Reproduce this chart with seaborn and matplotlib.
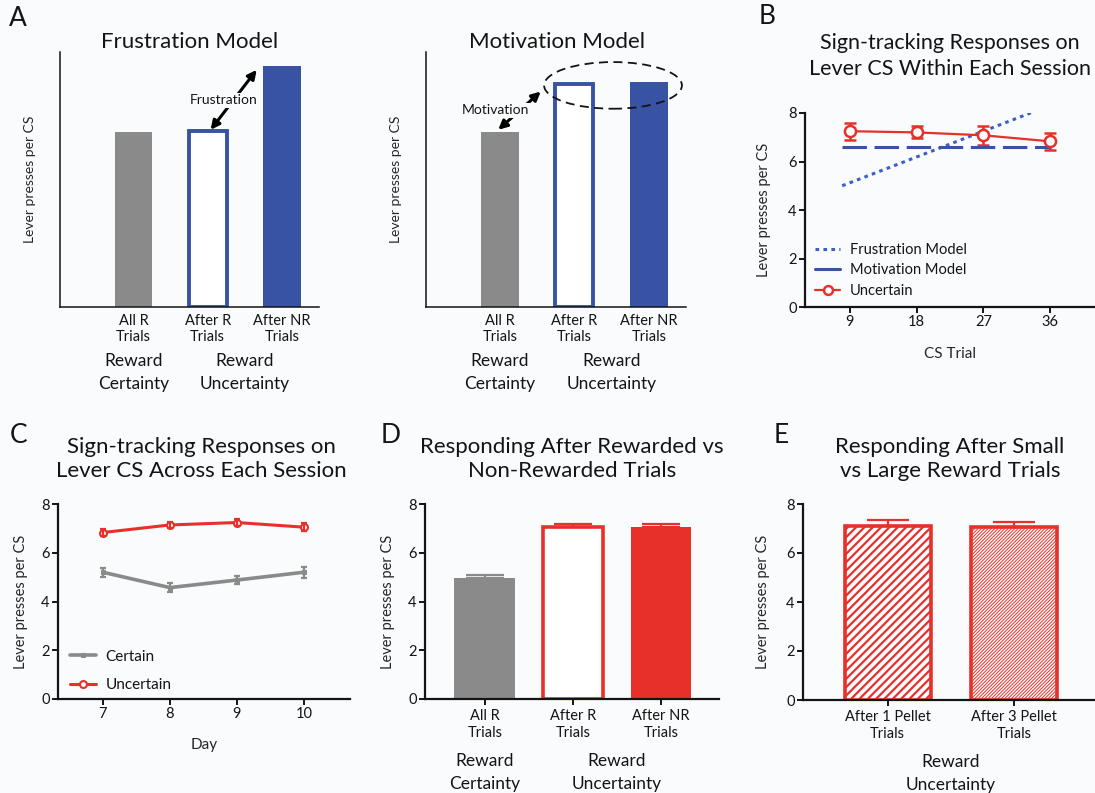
import matplotlib
matplotlib.use("Agg")
import matplotlib.pyplot as plt
from matplotlib.patches import Ellipse
import seaborn as sns

W, H = 1095, 793

# Panel A (schematic model predictions)
a_cats = ["All R\nTrials", "After R\nTrials", "After NR\nTrials"]
frustration_vals = [6.85, 6.9, 9.45]
motivation_vals = [6.85, 8.74, 8.82]

# Panel B (within session)
cs_trial = [9, 18, 27, 36]
uncertain_b = [7.25, 7.2, 7.08, 6.83]
uncertain_b_err = [0.35, 0.25, 0.4, 0.35]
frust_line_x = [8, 35]
frust_line_y = [5.0, 8.2]
motiv_line_x = [8, 36]
motiv_line_y = [6.6, 6.6]

# Panel C (across sessions)
days = [7, 8, 9, 10]
certain_c = [5.2, 4.57, 4.88, 5.2]
certain_c_err = [0.18, 0.2, 0.17, 0.22]
uncertain_c = [6.83, 7.14, 7.24, 7.05]
uncertain_c_err = [0.15, 0.13, 0.13, 0.17]

# Panel D
d_cats = ["All R\nTrials", "After R\nTrials", "After NR\nTrials"]
d_vals = [4.96, 7.06, 7.06]
d_err = [0.13, 0.14, 0.14]

# Panel E
e_cats = ["After 1 Pellet\nTrials", "After 3 Pellet\nTrials"]
e_vals = [7.1, 7.05]
e_err = [0.25, 0.23]

GRAY = "#8a8a8a"
BLUE = "#3852a4"
LBLUE = "#3d5fc4"
RED = "#e8302a"
INK = "#141414"
BG = "#fafbfd"

sns.set_style("ticks")
plt.rcParams["font.family"] = ["Lato", "DejaVu Sans"]
plt.rcParams["axes.facecolor"] = BG
plt.rcParams["axes.edgecolor"] = INK
plt.rcParams["text.color"] = INK
plt.rcParams["xtick.color"] = INK
plt.rcParams["ytick.color"] = INK

fig = plt.figure(figsize=(W / 100, H / 100), dpi=100, facecolor=BG)


def add_ax(x0, x1, yt, yb):
    return fig.add_axes([x0 / W, 1 - yb / H, (x1 - x0) / W, (yb - yt) / H])


def ftext(px, py, s, **kw):
    fig.text(px / W, 1 - py / H, s, **kw)


def label_coords(ax, x0, x1, yt, yb, ylab_px=None, xlab_py=None):
    if ylab_px is not None:
        ax.yaxis.set_label_coords((ylab_px - x0) / (x1 - x0), 0.5)
    if xlab_py is not None:
        ax.xaxis.set_label_coords(0.5, (yb - xlab_py) / (yb - yt))


def group_label(ax, x, s, drop_pt, size=12.5):
    ax.annotate(s, xy=(x, 0), xycoords=("data", "axes fraction"),
                xytext=(0, -drop_pt), textcoords="offset points",
                ha="center", va="center", fontsize=size, linespacing=1.55)


def style_bars(ax, styles, lw):
    for p, (face, edge) in zip(ax.patches, styles):
        p.set_facecolor(face)
        p.set_edgecolor(edge)
        p.set_linewidth(lw if face != edge else 0)


def upper_errors(ax, vals, errs, colors, capsize):
    for i, (v, e, c) in enumerate(zip(vals, errs, colors)):
        ax.errorbar([i], [v], yerr=[[0], [e]], fmt="none", ecolor=c,
                    elinewidth=1.6, capsize=capsize, capthick=1.6)


# ---------------- Panel A ----------------
for (x0, x1), vals, title, tx in [((60, 319), frustration_vals, "Frustration Model", 190),
                                  ((426, 686), motivation_vals, "Motivation Model", 557)]:
    ax = add_ax(x0, x1, 52, 307)
    sns.barplot(x=a_cats, y=vals, width=0.51, ax=ax)
    style_bars(ax, [(GRAY, GRAY), ("white", BLUE), (BLUE, BLUE)], 2.8)
    ax.set_xlim(-0.99, 2.5)
    ax.set_ylim(0, 10)
    ax.set_yticks([])
    ax.tick_params(axis="x", length=0, pad=5, labelsize=10.5)
    for t in ax.get_xticklabels():
        t.set_linespacing(1.2)
    sns.despine(ax=ax)
    for s in ("left", "bottom"):
        ax.spines[s].set_linewidth(1.1)
    ax.set_ylabel("Lever presses per CS", fontsize=10)
    label_coords(ax, x0, x1, 52, 307, ylab_px=x0 - 24)
    group_label(ax, 0, "Reward\nCertainty", 47)
    group_label(ax, 1.5, "Reward\nUncertainty", 47)
    ftext(tx, 42, title, ha="center", va="center", fontsize=16)
    if vals is frustration_vals:
        ax.annotate("", xy=(1.04, 6.95), xytext=(1.66, 9.3),
                    arrowprops=dict(arrowstyle="<|-|>", lw=2.2, color="black",
                                    mutation_scale=13, shrinkA=0, shrinkB=0))
        ax.text(1.22, 8.1, "Frustration", fontsize=10, ha="center", va="center",
                bbox=dict(boxstyle="square,pad=0.1", fc=BG, ec="none"))
    else:
        ax.annotate("", xy=(-0.02, 6.95), xytext=(0.55, 8.45),
                    arrowprops=dict(arrowstyle="<|-|>", lw=2.2, color="black",
                                    mutation_scale=13, shrinkA=0, shrinkB=0))
        ax.text(-0.06, 7.71, "Motivation", fontsize=10, ha="center", va="center",
                bbox=dict(boxstyle="square,pad=0.1", fc=BG, ec="none"))
        ax.add_patch(Ellipse((1.52, 8.69), 1.85, 1.83, fill=False, ls=(0, (5, 3)),
                             lw=1.3, ec=INK, clip_on=False))

ftext(18, 18, "A", ha="center", va="center", fontsize=19)


def style_axis(ax):
    sns.despine(ax=ax)
    for s in ("left", "bottom"):
        ax.spines[s].set_linewidth(1.6)
    ax.tick_params(length=4, width=1.4, labelsize=10.5, pad=2)


# ---------------- Panel B ----------------
bx = (805, 1095, 113, 307)
ax = add_ax(*bx)
sns.lineplot(x=frust_line_x, y=frust_line_y, color=LBLUE, lw=2.2,
             linestyle=(0, (1.2, 1.4)), label="Frustration Model", ax=ax)
sns.lineplot(x=motiv_line_x, y=motiv_line_y, color=BLUE, lw=2.2,
             linestyle=(0, (8, 2.5)), label="Motivation Model", ax=ax)
sns.lineplot(x=cs_trial, y=uncertain_b, color=RED, lw=1.6, marker="o", ms=8,
             mfc="white", mec=RED, mew=1.8, label="Uncertain", ax=ax)
ax.errorbar(cs_trial, uncertain_b, yerr=uncertain_b_err, fmt="none",
            ecolor=RED, elinewidth=1.8, capsize=4, capthick=1.8, zorder=1)
ax.set_xlim(3, 42)
ax.set_ylim(0, 8)
ax.set_xticks(cs_trial)
ax.set_yticks([0, 2, 4, 6, 8])
style_axis(ax)
ax.set_xlabel("CS Trial", fontsize=11)
ax.set_ylabel("Lever presses per CS", fontsize=10.5)
label_coords(ax, *bx, ylab_px=771, xlab_py=347)
leg = ax.legend(loc="lower left", bbox_to_anchor=(-0.01, -0.02), frameon=False,
                fontsize=10.5, handlelength=1.7, handletextpad=0.7, labelspacing=0.45,
                markerscale=0.8)
leg.legend_handles[1].set_linestyle("-")
ftext(950, 56, "Sign-tracking Responses on\nLever CS Within Each Session",
      ha="center", va="center", fontsize=15.5, linespacing=1.35)
ftext(767, 16, "B", ha="center", va="center", fontsize=19)

# ---------------- Panel C ----------------
cx = (58, 350, 504, 699)
ax = add_ax(*cx)
sns.lineplot(x=days, y=certain_c, color=GRAY, lw=2.6, marker="s", ms=3.5,
             mfc=GRAY, mec=GRAY, label="Certain", ax=ax)
sns.lineplot(x=days, y=uncertain_c, color=RED, lw=2.2, marker="o", ms=5,
             mfc="white", mec=RED, mew=1.5, label="Uncertain", ax=ax)
ax.errorbar(days, certain_c, yerr=certain_c_err, fmt="none", ecolor=GRAY,
            elinewidth=1.6, capsize=2.5, capthick=1.6)
ax.errorbar(days, uncertain_c, yerr=uncertain_c_err, fmt="none", ecolor=RED,
            elinewidth=1.6, capsize=2.5, capthick=1.6)
ax.set_xlim(6.33, 10.69)
ax.set_ylim(0, 8)
ax.set_xticks(days)
ax.set_yticks([0, 2, 4, 6, 8])
style_axis(ax)
ax.set_xlabel("Day", fontsize=11)
ax.set_ylabel("Lever presses per CS", fontsize=10.5)
label_coords(ax, *cx, ylab_px=28, xlab_py=738)
ax.legend(loc="lower left", bbox_to_anchor=(-0.005, -0.035), frameon=False,
          fontsize=11, handlelength=1.7, handletextpad=0.6, labelspacing=0.95)
ftext(201, 459, "Sign-tracking Responses on\nLever CS Across Each Session",
      ha="center", va="center", fontsize=16, linespacing=1.3)
ftext(19, 436, "C", ha="center", va="center", fontsize=19)

# ---------------- Panel D ----------------
dx = (425, 719, 504, 699)
ax = add_ax(*dx)
sns.barplot(x=d_cats, y=d_vals, width=0.69, ax=ax)
style_bars(ax, [(GRAY, GRAY), ("white", RED), (RED, RED)], 2.6)
upper_errors(ax, d_vals, d_err, [GRAY, RED, RED], 14)
ax.set_xlim(-0.68, 2.66)
ax.set_ylim(0, 8)
ax.set_yticks([0, 2, 4, 6, 8])
style_axis(ax)
ax.tick_params(axis="x", pad=3)
for t in ax.get_xticklabels():
    t.set_linespacing(1.3)
ax.set_ylabel("Lever presses per CS", fontsize=10.5)
label_coords(ax, *dx, ylab_px=395)
group_label(ax, 0, "Reward\nCertainty", 53)
group_label(ax, 1.5, "Reward\nUncertainty", 53)
ftext(572, 459, "Responding After Rewarded vs\nNon-Rewarded Trials",
      ha="center", va="center", fontsize=16, linespacing=1.3)
ftext(391, 436, "D", ha="center", va="center", fontsize=19)

# ---------------- Panel E ----------------
ex = (803, 1095, 504, 700)
ax = add_ax(*ex)
sns.barplot(x=e_cats, y=e_vals, width=0.68, ax=ax)
for p, hatch, hlw in zip(ax.patches, ["////", "//////////"], [1.6, 0.7]):
    p.set_facecolor("white")
    p.set_edgecolor(RED)
    p.set_linewidth(2.6)
    p.set_hatch(hatch)
    if hasattr(p, "set_hatch_linewidth"):
        p.set_hatch_linewidth(hlw)
upper_errors(ax, e_vals, e_err, [RED, RED], 15)
ax.set_xlim(-0.67, 1.64)
ax.set_ylim(0, 8)
ax.set_yticks([0, 2, 4, 6, 8])
style_axis(ax)
ax.tick_params(axis="x", pad=3)
for t in ax.get_xticklabels():
    t.set_linespacing(1.3)
ax.set_ylabel("Lever presses per CS", fontsize=10.5)
label_coords(ax, *ex, ylab_px=770)
group_label(ax, 0.5, "Reward\nUncertainty", 53)
ftext(950, 459, "Responding After Small\nvs Large Reward Trials",
      ha="center", va="center", fontsize=16, linespacing=1.3)
ftext(781, 436, "E", ha="center", va="center", fontsize=19)

fig.savefig("out.png", dpi=100, facecolor=BG)
